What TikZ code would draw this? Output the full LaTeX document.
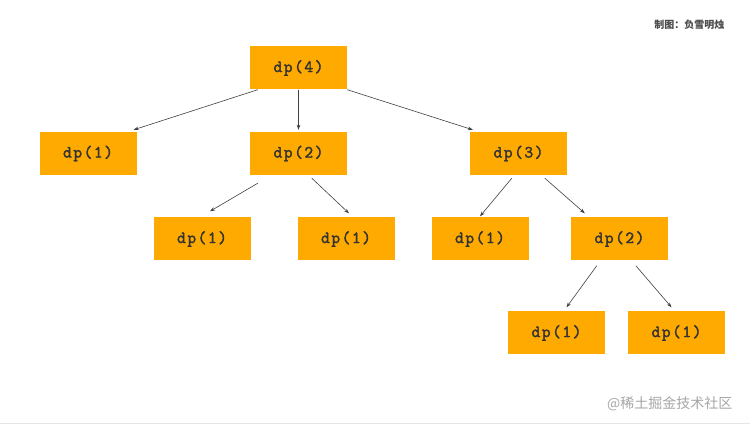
\documentclass[tikz,border=0pt]{standalone}
\usepackage{fontspec}
\newfontfamily\cjk{Noto Sans CJK SC}
\newfontfamily\dpfont{Latin Modern Mono}[FakeBold=2.2, LetterSpace=9]
\usetikzlibrary{calc,arrows.meta}
\definecolor{boxor}{HTML}{FFAA00}
\definecolor{txt}{HTML}{333333}
\tikzset{
  box/.style={fill=boxor, minimum width=97pt, minimum height=43pt, inner sep=0pt,
    font=\dpfont\fontsize{17}{17}\selectfont, text=txt},
  conn/.style={draw=black!75, line width=0.6pt, -{Stealth[length=5pt,width=3.5pt]}},
}
\begin{document}
\begin{tikzpicture}[x=1pt,y=-1pt]
\useasboundingbox (0,0) rectangle (750,427);
\fill[white] (0,0) rectangle (750,427);
\node[box] (a) at (298.5,68) {dp(4)};
\node[box] (b) at (88,153.5) {dp(1)};
\node[box] (c) at (298.5,153.5) {dp(2)};
\node[box] (d) at (518.5,153.5) {dp(3)};
\node[box] (e) at (202,239) {dp(1)};
\node[box] (f) at (346,239) {dp(1)};
\node[box] (g) at (480,239) {dp(1)};
\node[box] (h) at (619.5,239) {dp(2)};
\node[box] (i) at (556.5,333) {dp(1)};
\node[box] (j) at (676.5,333) {dp(1)};
\draw[conn] ($(a.south west)+(8,0)$) -- ($(b.north east)+(-3,-2)$);
\draw[conn] (a.south) -- ($(c.north)+(0,-2)$);
\draw[conn] ($(a.south east)+(0,0)$) -- ($(d.north west)+(3,-2)$);
\draw[conn] ($(c.south west)+(8,8)$) -- ($(e.north)+(8,-6)$);
\draw[conn] ($(c.south west)+(62,3)$) -- ($(f.north)+(3,-4)$);
\draw[conn] ($(d.south west)+(42,3)$) -- ($(g.north)+(0,-1)$);
\draw[conn] ($(d.south west)+(75,3)$) -- ($(h.north west)+(14,-4)$);
\draw[conn] ($(h.south west)+(26,5)$) -- ($(i.north)+(10,-4)$);
\draw[conn] ($(h.south west)+(65,5)$) -- ($(j.north)+(-5,-4)$);
\node[font=\cjk\bfseries\fontsize{10}{10}\selectfont, text=black!70, anchor=east] (credit) at (728,25) {制图：负雪明烛};
\node[font=\cjk\fontsize{14}{14}\selectfont, text=black!35, anchor=east] (wm) at (736,404) {@稀土掘金技术社区};
\draw[black!10, line width=1pt] (0,424) -- (750,424);
\end{tikzpicture}
\end{document}
